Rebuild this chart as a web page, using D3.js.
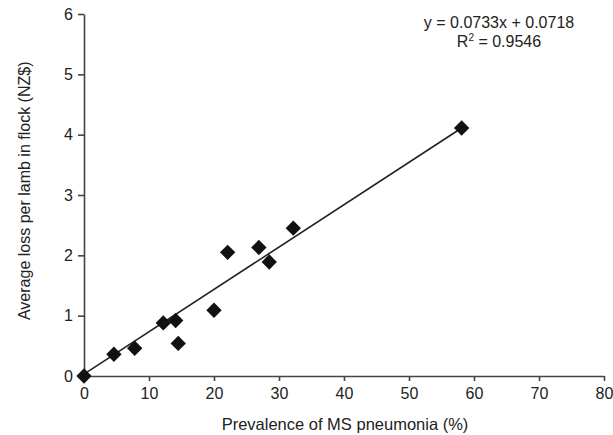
<!DOCTYPE html>
<html>
<head>
<meta charset="utf-8">
<script src="https://cdn.jsdelivr.net/npm/d3@7"></script>
<style>
  body { margin: 0; background: #fff; }
  .axis text { font-family: "Liberation Sans", Arial, sans-serif; font-size: 16px; fill: #222; }
  .axis line, .axis path { stroke: #444; stroke-width: 1.6; }
  .label { font-family: "Liberation Sans", Arial, sans-serif; font-size: 16px; fill: #222; }
</style>
</head>
<body>
<div id="chart"></div>
<script>
// prevalence of MS pneumonia (%) and average loss per lamb (NZ$)
var prevalence = [0, 4.6, 7.8, 12.2, 14.1, 14.5, 20.0, 22.1, 26.9, 28.5, 32.2, 58.1];
var avgLoss = [0, 0.36, 0.46, 0.88, 0.92, 0.54, 1.09, 2.05, 2.13, 1.89, 2.45, 4.11];
// trend line as drawn in the figure
var trendX = [0, 58.1];
var trendY = [0.03, 4.11];
var xTicks = [0, 10, 20, 30, 40, 50, 60, 70, 80];
var yTicks = [0, 1, 2, 3, 4, 5, 6];
var equation = 'y = 0.0733x + 0.0718';
var rSquared = '0.9546';

var width = 613, height = 435;
var margin = { left: 84, right: 9, top: 14, bottom: 59 };

var svg = d3
  .select('#chart')
  .append('svg')
  .attr('width', width)
  .attr('height', height);

var x = d3.scaleLinear().domain([0, 80]).range([margin.left, width - margin.right]);
var y = d3.scaleLinear().domain([0, 6]).range([height - margin.bottom, margin.top]);

svg
  .append('g')
  .attr('class', 'axis')
  .attr('transform', 'translate(0,' + (height - margin.bottom) + ')')
  .call(d3.axisBottom(x).tickValues(xTicks).tickSize(5).tickSizeOuter(0).tickPadding(5))
  .selectAll('text')
  .attr('dy', '0.8em');

svg
  .append('g')
  .attr('class', 'axis')
  .attr('transform', 'translate(' + margin.left + ',0)')
  .call(
    d3.axisLeft(y).tickValues(yTicks).tickFormat(d3.format('d')).tickSize(6).tickSizeOuter(0).tickPadding(5)
  );

// trend line
svg
  .append('path')
  .datum(d3.zip(trendX, trendY))
  .attr('fill', 'none')
  .attr('stroke', '#222')
  .attr('stroke-width', 1.6)
  .attr('d', d3.line().x((d) => x(d[0])).y((d) => y(d[1])));

// diamonds
svg
  .append('g')
  .selectAll('path')
  .data(d3.zip(prevalence, avgLoss))
  .enter()
  .append('path')
  .attr('d', d3.symbol(d3.symbolSquare, 118)())
  .attr('transform', (d) => 'translate(' + x(d[0]) + ',' + y(d[1]) + ') rotate(45)')
  .attr('fill', '#111');

// equation text
var eq = svg.append('text').attr('class', 'label').attr('text-anchor', 'middle');
eq.append('tspan').attr('x', 499).attr('y', 28).text(equation);
var r2 = svg.append('text').attr('class', 'label').attr('text-anchor', 'middle').attr('x', 499).attr('y', 47);
r2.append('tspan').text('R');
r2.append('tspan').attr('dy', -6).attr('font-size', '10px').text('2');
r2.append('tspan').attr('dy', 6).text(' = ' + rSquared);

// axis titles
svg
  .append('text')
  .attr('class', 'label')
  .attr('text-anchor', 'middle')
  .style('font-size', '16.5px')
  .attr('x', 345)
  .attr('y', 430)
  .text('Prevalence of MS pneumonia (%)');

svg
  .append('text')
  .attr('class', 'label')
  .attr('text-anchor', 'middle')
  .attr('transform', 'translate(30,' + y(3.07) + ') rotate(-90)')
  .text('Average loss per lamb in flock (NZ$)');
</script>
</body>
</html>
